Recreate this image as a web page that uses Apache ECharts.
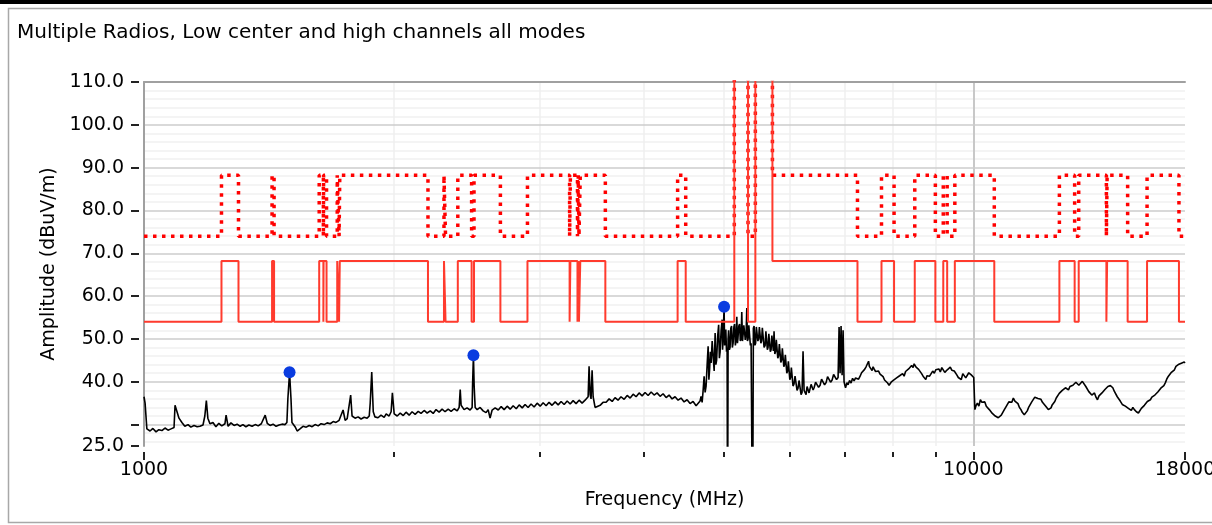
<!DOCTYPE html>
<html>
<head>
<meta charset="utf-8">
<script src="https://cdn.jsdelivr.net/npm/echarts@6/dist/echarts.min.js"></script>
<style>
html, body { margin: 0; padding: 0; background: #fff; }
#chart { width: 1212px; height: 525px; }
</style>
</head>
<body>
<div id="chart"></div>
<script>
// limit lines: restricted bands get the low level, fundamental bands run off the top
var restrictedBands = [[1000, 1240], [1300, 1427], [1435, 1626.5], [1645.5, 1646.5], [1660, 1710], [1718.8, 1722.2],
    [2200, 2300], [2310, 2390], [2483.5, 2500], [2690, 2900], [3260, 3267], [3332, 3339], [3345.8, 3358],
    [3600, 4400], [4500, 5150], [5350, 5460], [7250, 7750], [8025, 8500], [9000, 9200], [9300, 9500],
    [10600, 12700], [13250, 13400], [14470, 14500], [15350, 16200], [17700, 18000]];
var fundamentalBands = [[5150, 5350], [5460, 5725]];
var avgLevels = [54, 68.2, 130];   // restricted, other, fundamental
var peakLevels = [74, 88.2, 130];

var traceLow = [[1000, 36.5], [1003, 35], [1008, 29], [1017, 28.5], [1025, 29.1], [1034, 28.3], [1042, 28.8], [1051, 28.6], [1060, 29.2], [1069, 28.7],
    [1078, 29], [1087, 29.3], [1090, 34.5], [1096, 33], [1102, 31.5], [1111, 30.5], [1120, 29.6], [1130, 30], [1139, 29.4], [1149, 29.8],
    [1159, 29.5], [1168, 29.6], [1178, 29.9], [1184, 32], [1189, 35.6], [1194, 31.5], [1201, 30.2], [1211, 30.5], [1221, 29.5], [1231, 30.3],
    [1241, 29.7], [1252, 30.2], [1256, 32.2], [1263, 29.6], [1273, 30.4], [1284, 29.8], [1295, 30.1], [1306, 29.6], [1316, 30], [1327, 29.5],
    [1338, 29.9], [1350, 29.6], [1362, 30], [1373, 29.7], [1385, 30.2], [1400, 32.2], [1408, 30.3], [1419, 29.8], [1431, 30.1], [1443, 29.6],
    [1455, 29.9], [1467, 30.1], [1479, 30], [1487, 30.5], [1491, 36], [1498, 42.2], [1504, 36], [1508, 30.5], [1521, 29.5], [1530, 28.5],
    [1542, 29], [1555, 29.6], [1569, 29.4], [1582, 29.8], [1595, 29.5], [1608, 30], [1622, 29.7], [1635, 30.2], [1649, 30], [1663, 30.4],
    [1677, 30.2], [1691, 30.7], [1704, 30.5], [1719, 31], [1728, 30.6], [1738, 33.4], [1748, 31], [1758, 31.4], [1767, 31], [1775, 36.9],
    [1782, 32], [1797, 31.5], [1812, 31.8], [1827, 31.3], [1843, 31.7], [1858, 31.5], [1869, 32], [1874, 35], [1882, 42.3], [1890, 33],
    [1899, 31.8], [1915, 31.6], [1931, 32.2], [1948, 31.7], [1959, 32.5], [1975, 32], [1986, 33], [1993, 37.4], [2003, 32.5], [2020, 32],
    [2037, 32.7], [2054, 32.1], [2070, 32.9], [2088, 32.2], [2105, 33], [2123, 32.4], [2141, 33.1], [2158, 32.6], [2177, 33.3], [2195, 32.7],
    [2214, 33.2], [2232, 32.6], [2250, 33.5], [2269, 32.9], [2288, 33.6], [2307, 33], [2327, 33.6], [2346, 33.1], [2366, 33.7], [2386, 33.2],
    [2399, 34], [2406, 38.2], [2412, 34.5], [2432, 33.5], [2452, 33.9], [2473, 33.4], [2487, 34], [2490, 39.2], [2496, 46.2], [2501, 39],
    [2508, 34], [2522, 33.5], [2543, 34], [2564, 33.2], [2585, 32.8], [2600, 33.5], [2614, 31.5], [2629, 33.4], [2651, 33.9], [2674, 33.4],
    [2696, 34.2], [2718, 33.5], [2741, 34.3], [2764, 33.6], [2787, 34.4], [2811, 33.7], [2834, 34.6], [2858, 33.9], [2881, 34.7], [2905, 34],
    [2929, 34.8], [2954, 34.1], [2979, 35], [3004, 34.3], [3029, 35.1], [3054, 34.4], [3079, 35.2], [3105, 34.5], [3132, 35.3], [3158, 34.6],
    [3184, 35.4], [3211, 34.7], [3238, 35.5], [3265, 34.8], [3292, 35.6], [3319, 34.9], [3347, 35.7], [3375, 35], [3403, 35.7], [3432, 36.5],
    [3441, 43.6], [3451, 37], [3460, 36], [3470, 42.7], [3480, 36.5], [3499, 34], [3518, 34.4], [3548, 34.5], [3577, 35.2], [3608, 35.2],
    [3638, 36], [3669, 35.4], [3698, 36.3], [3729, 35.7], [3760, 36.5], [3793, 35.9], [3825, 36.8], [3857, 36.2], [3889, 37.1], [3921, 36.5],
    [3954, 37.4], [3987, 36.7], [4020, 37.5], [4054, 36.8], [4088, 37.6], [4122, 36.9], [4156, 37.4], [4191, 36.6], [4226, 37.2], [4262, 36.3],
    [4297, 36.9], [4333, 36], [4369, 36.5], [4406, 35.7], [4442, 36.2], [4480, 35.3], [4517, 35.8], [4555, 34.9], [4593, 35.4], [4632, 34.4],
    [4657, 34.2]];
var traceBand = [[4683, 35.5], [4696, 36.6], [4710, 35.2], [4723, 38], [4736, 41.3], [4749, 37.5], [4762, 39], [4776, 44], [4789, 48.3], [4799, 40.5],
    [4809, 43], [4819, 47], [4829, 44.4], [4843, 49.5], [4856, 46], [4870, 42.5], [4883, 51.4], [4893, 44], [4903, 45], [4917, 50.5],
    [4931, 53.3], [4941, 45.5], [4951, 47], [4965, 52], [4979, 54.5], [4985, 47.5], [4992, 50], [5006, 57.5], [5013, 48.5], [5020, 49],
    [5030, 52.2], [5040, 47], [5048, 48], [5055, 0], [5062, 50], [5069, 52], [5080, 47.5], [5090, 48], [5100, 52.5], [5111, 53],
    [5122, 48], [5133, 49], [5144, 52.8], [5154, 53.5], [5165, 48.5], [5176, 50], [5186, 55.2], [5195, 49], [5204, 50.5], [5215, 53],
    [5226, 53.5], [5237, 49.5], [5248, 50], [5258, 56.3], [5268, 49.5], [5277, 51], [5288, 53.2], [5299, 53.5], [5310, 49.8], [5321, 51],
    [5332, 57.2], [5341, 49.5], [5351, 50], [5362, 53.2], [5373, 53], [5385, 48.5], [5396, 49], [5418, 0], [5430, 52.5], [5441, 53],
    [5453, 48.5], [5464, 49], [5475, 52.8], [5486, 53], [5498, 49.5], [5510, 50], [5521, 52.8], [5532, 53], [5544, 49], [5555, 49.5],
    [5567, 52.6], [5579, 52.5], [5594, 48], [5610, 48.5], [5622, 51.8], [5633, 51.5], [5645, 47.5], [5656, 48], [5668, 51.2], [5680, 51],
    [5692, 47], [5704, 47.5], [5716, 50.8], [5728, 50.5], [5740, 47.2], [5751, 51.8], [5763, 46.5], [5775, 47], [5787, 49.8], [5799, 49.5],
    [5811, 45.5], [5823, 46], [5836, 48.8], [5848, 48.5], [5860, 44.5], [5872, 45], [5885, 47.8], [5897, 47.5], [5909, 43.5], [5921, 44],
    [5934, 46.3], [5946, 46], [5958, 42], [5971, 42.5], [5984, 44.8], [5996, 44.5], [6008, 40.5], [6021, 41], [6034, 43.3], [6046, 43],
    [6062, 39], [6079, 39.5], [6096, 41.3], [6113, 41], [6130, 38], [6147, 38.5], [6164, 40.3], [6181, 40], [6199, 37], [6216, 37.5],
    [6233, 47.1], [6251, 38], [6268, 37.6], [6286, 37], [6303, 38.9], [6321, 38.5], [6338, 37.4], [6356, 37.8], [6374, 39.4], [6392, 39],
    [6410, 38.1], [6427, 38.6], [6454, 39.9], [6481, 39.5], [6508, 38.7], [6535, 39.2], [6562, 40.6], [6590, 40.2], [6617, 39.3], [6645, 39.8],
    [6672, 41.2], [6700, 40.8], [6728, 39.9], [6757, 40.4], [6785, 41.7], [6813, 41.3], [6841, 40.5], [6870, 41], [6889, 52.8], [6908, 42],
    [6927, 53], [6947, 41.5], [6966, 52]];
var traceHigh = [[6985, 40], [7000, 39.2], [7014, 38.6], [7040, 39.8], [7063, 39.3], [7092, 40.3], [7122, 39.7], [7152, 40.8], [7182, 40.2], [7212, 40.9],
    [7242, 41], [7272, 40.6], [7303, 41.3], [7333, 42.1], [7364, 42.3], [7395, 42.9], [7425, 43.5], [7451, 43.8], [7477, 44.8], [7493, 43.6],
    [7508, 43.2], [7529, 43.9], [7550, 42.6], [7571, 43.5], [7592, 43], [7623, 42.4], [7655, 42], [7687, 42.5], [7719, 41.8], [7751, 41.6],
    [7784, 41.2], [7816, 40.4], [7849, 40], [7882, 39.7], [7915, 39.2], [7937, 38.9], [7960, 39.9], [7982, 39.5], [8015, 40.4], [8048, 40],
    [8082, 40.9], [8116, 40.6], [8150, 41.4], [8183, 41], [8218, 41.9], [8252, 41.3], [8286, 42.4], [8321, 42], [8356, 43], [8391, 42.6],
    [8426, 43.8], [8461, 43.3], [8485, 44.2], [8508, 44], [8531, 43.4], [8555, 43.2], [8591, 42.9], [8627, 42.5], [8663, 41.9], [8699, 41.3],
    [8731, 41.1], [8764, 40.5], [8792, 41.4], [8820, 41], [8857, 41.3], [8894, 41.7], [8934, 42.5], [8974, 42], [9011, 42.8], [9049, 42.4],
    [9087, 43], [9125, 42.3], [9163, 43.3], [9201, 42.9], [9239, 42.2], [9277, 42.6], [9303, 42.8], [9342, 42.4], [9381, 43.4], [9420, 42.7],
    [9459, 43], [9485, 42.5], [9512, 42.2], [9552, 41.6], [9592, 41], [9632, 41.3], [9672, 40.5], [9712, 41.9], [9752, 41.5], [9793, 40.9],
    [9834, 41.2], [9875, 42.1], [9916, 42.5], [9943, 41.6], [9971, 42], [10012, 41], [10044, 33.5], [10079, 34.5], [10114, 35], [10156, 34.3],
    [10198, 35.8], [10241, 35.2], [10284, 35], [10325, 35.3], [10367, 34.3], [10410, 34.6], [10454, 33.5], [10498, 33.4], [10542, 32.6], [10585, 32.9],
    [10629, 32], [10673, 32.3], [10718, 31.6], [10763, 31.4], [10808, 32.2], [10854, 32.5], [10900, 33.5], [10945, 34.1], [10991, 34.5], [11037, 35.3],
    [11083, 35.6], [11130, 35.2], [11176, 36.2], [11224, 35.5], [11272, 35.3], [11320, 34.9], [11367, 34], [11415, 33.5], [11462, 32.8], [11491, 32.9],
    [11520, 32.3], [11568, 32.7], [11616, 33.2], [11665, 34.1], [11713, 34.3], [11762, 35.3], [11811, 35.5], [11863, 36.4], [11916, 36.6], [11966, 36.1],
    [12016, 35.8], [12066, 35.9], [12117, 35.2], [12165, 35.1], [12214, 34.4], [12265, 34.1], [12316, 33.5], [12362, 33.8], [12409, 33.9], [12448, 34.6],
    [12488, 35], [12539, 35.4], [12590, 36.2], [12642, 36.6], [12695, 37.3], [12748, 37.5], [12802, 38], [12859, 38.4], [12916, 38.6], [12970, 38.8],
    [13024, 38.1], [13078, 38.9], [13132, 38.5], [13186, 39.2], [13240, 39.2], [13295, 39.9], [13351, 39.7], [13406, 39.2], [13462, 39.4], [13536, 40.1],
    [13610, 39.7], [13667, 38.9], [13724, 38.5], [13781, 37.7], [13839, 37.4], [13896, 36.9], [13954, 36.5], [14000, 37.4], [14058, 36.4], [14117, 35.8],
    [14176, 36.7], [14235, 36.5], [14294, 37.4], [14354, 37.5], [14412, 38.2], [14470, 38.3], [14530, 38.9], [14591, 38.5], [14632, 39.1], [14672, 38.9],
    [14731, 38.6], [14790, 37.8], [14852, 37.5], [14914, 36.5], [14976, 36.4], [15038, 35.5], [15080, 35.4], [15123, 34.7], [15187, 34.8], [15252, 34.3],
    [15316, 34.3], [15380, 33.8], [15444, 33.9], [15508, 33.3], [15574, 34], [15640, 33.5], [15683, 33.4], [15727, 33], [15771, 33.3], [15815, 32.7],
    [15880, 33.1], [15946, 33.8], [16013, 33.8], [16080, 34.5], [16147, 34.8], [16214, 35.4], [16282, 35.1], [16350, 35.8], [16418, 36.4], [16487, 36],
    [16555, 36.9], [16622, 36.6], [16691, 37.6], [16761, 37.3], [16831, 38.5], [16902, 38.5], [16974, 39.1], [17047, 39.8], [17118, 40.7], [17190, 41.3],
    [17261, 41.6], [17333, 42.2], [17406, 42.5], [17480, 42.8], [17553, 43.6], [17626, 43.3], [17700, 44.1], [17773, 43.8], [17848, 44.4], [17922, 44],
    [17961, 44.6], [18000, 44.4]];

var markerFreq = [1498, 2496, 5006];
var markerAmp = [42.2, 46.2, 57.5];

var xMajorTicks = [1000, 10000, 18000];
var xMinorTicks = [2000, 3000, 4000, 5000, 6000, 7000, 8000, 9000];
var yTicks = [25, 30, 40, 50, 60, 70, 80, 90, 100, 110];
var yLabels = [25, 40, 50, 60, 70, 80, 90, 100, 110];
var yGrid = [30, 40, 50, 60, 70, 80, 90, 100];

var FONT = 'DejaVu Sans';

function levelAt(f, levels) {
    for (var i = 0; i < fundamentalBands.length; i++) {
        if (f >= fundamentalBands[i][0] && f < fundamentalBands[i][1]) return levels[2];
    }
    for (var j = 0; j < restrictedBands.length; j++) {
        if (f >= restrictedBands[j][0] && f < restrictedBands[j][1]) return levels[0];
    }
    return levels[1];
}

function buildLimit(levels) {
    var edges = [1000, 18000];
    restrictedBands.concat(fundamentalBands).forEach(function (b) {
        edges.push(b[0], b[1]);
    });
    edges.sort(function (a, b) { return a - b; });
    var pts = [];
    for (var k = 0; k < edges.length - 1; k++) {
        if (edges[k + 1] <= edges[k]) continue;
        var lv = levelAt((edges[k] + edges[k + 1]) / 2, levels);
        pts.push([edges[k], lv], [edges[k + 1], lv]);
    }
    return pts;
}

var traceData = traceLow.concat(traceBand, traceHigh);
var markerData = [];
for (var m = 0; m < markerFreq.length; m++) {
    markerData.push([markerFreq[m], markerAmp[m]]);
}

// faint grid every 2 dB between the major lines
var yMinorGrid = [];
for (var v = 26; v < 110; v += 2) {
    if (v % 10 !== 0) yMinorGrid.push(v);
}

var chart = echarts.init(document.getElementById('chart'));
var option = {
    animation: false,
    backgroundColor: '#fff',
    title: {
        text: 'Multiple Radios, Low center and high channels all modes',
        left: 12,
        top: 18,
        textStyle: { fontFamily: FONT, fontSize: 20, fontWeight: 'normal', color: '#000' }
    },
    graphic: [
        { type: 'rect', left: 0, top: 0, shape: { width: 1212, height: 4 }, style: { fill: '#000' } },
        { type: 'rect', shape: { x: 8.5, y: 8.5, width: 1210, height: 514 }, style: { fill: 'none', stroke: '#a8a8a8', lineWidth: 1.5 }, z: -1 }
    ],
    grid: { left: 144, right: 27, top: 82, bottom: 79, containLabel: false, outerBoundsMode: 'none' },
    xAxis: [
        {
            type: 'log', logBase: 10, min: 1000, max: 18000, offset: 6, position: 'bottom',
            name: 'Frequency (MHz)', nameLocation: 'middle', nameGap: 39,
            nameTextStyle: { fontFamily: FONT, fontSize: 19, color: '#000' },
            axisLine: { show: false },
            axisTick: { show: true, customValues: xMajorTicks, length: 8, lineStyle: { color: '#222', width: 2 } },
            axisLabel: {
                customValues: xMajorTicks, margin: 9, fontFamily: FONT, fontSize: 19, color: '#000',
                formatter: function (val) { return String(Math.round(val)); }
            },
            splitLine: { show: false }
        },
        {
            type: 'log', logBase: 10, min: 1000, max: 18000, offset: 6, position: 'bottom',
            axisLine: { show: false },
            axisTick: { show: true, customValues: xMinorTicks, length: 5, lineStyle: { color: '#222', width: 2 } },
            axisLabel: { show: false },
            splitLine: { show: true, lineStyle: { color: '#efefef', width: 1.5 } }
        },
        {
            type: 'log', logBase: 10, min: 1000, max: 18000, position: 'top',
            axisLine: { show: true, lineStyle: { color: '#a0a0a0', width: 2 } },
            axisTick: { show: false, customValues: [10000] },
            axisLabel: { show: false },
            splitLine: { show: true, lineStyle: { color: '#c8c8c8', width: 2 } }
        }
    ],
    yAxis: [
        {
            type: 'value', min: 25, max: 110, interval: 5, position: 'left',
            axisLine: { show: true, lineStyle: { color: '#a0a0a0', width: 2 } },
            axisTick: { show: false, customValues: yGrid },
            axisLabel: { show: false },
            splitLine: { show: true, lineStyle: { color: '#cdcdcd', width: 1.5 } },
            z: 1
        },
        {
            type: 'value', min: 25, max: 110, interval: 5, offset: 5, position: 'left',
            name: 'Amplitude (dBuV/m)', nameLocation: 'middle', nameGap: 80, nameRotate: 90,
            nameTextStyle: { fontFamily: FONT, fontSize: 19, color: '#000' },
            axisLine: { show: false },
            axisTick: { show: true, customValues: yTicks, length: 8, lineStyle: { color: '#222', width: 2 } },
            axisLabel: {
                customValues: yLabels, margin: 15, fontFamily: FONT, fontSize: 19, color: '#000',
                formatter: function (val) { return Number(val).toFixed(1); }
            },
            splitLine: { show: false }
        },
        {
            type: 'value', min: 25, max: 110, interval: 5, position: 'left',
            axisLine: { show: false },
            axisTick: { show: false, customValues: yMinorGrid },
            axisLabel: { show: false },
            splitLine: { show: true, lineStyle: { color: '#f0f0f0', width: 1.5 } }
        }
    ],
    series: [
        {
            name: 'Trace', type: 'line', data: traceData, showSymbol: false,
            lineStyle: { color: '#000', width: 1.6 }, z: 3
        },
        {
            name: 'Peak limit', type: 'line', data: buildLimit(peakLevels), showSymbol: false,
            lineStyle: { color: '#ff0000', width: 3.5, type: [3.5, 5.5] }, z: 4
        },
        {
            name: 'Average limit', type: 'line', data: buildLimit(avgLevels), showSymbol: false,
            lineStyle: { color: '#ff3b2e', width: 2 }, z: 4
        },
        {
            name: 'Markers', type: 'scatter', data: markerData, symbol: 'circle', symbolSize: 12,
            itemStyle: { color: '#0a3ce0', opacity: 1 }, z: 5
        }
    ]
};
chart.setOption(option);
</script>
</body>
</html>
